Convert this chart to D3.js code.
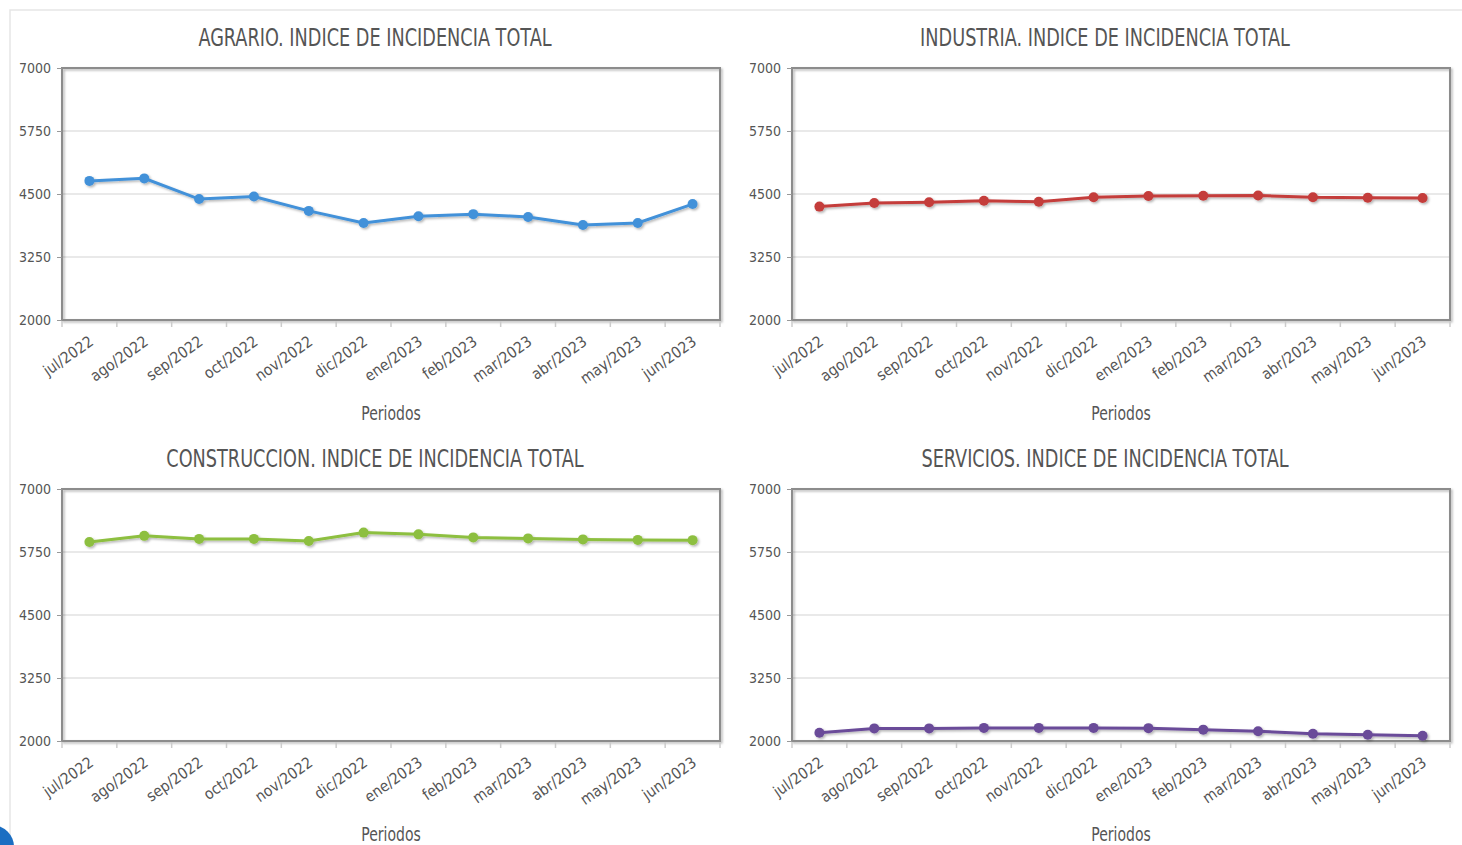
<!DOCTYPE html>
<meta charset="utf-8">
<html>
<head>
<style>
  body { margin: 0; background: #fff; overflow: hidden; }
  svg text { font-family: "DejaVu Sans Condensed", "DejaVu Sans", sans-serif; font-stretch: condensed; fill: #555; }
</style>
</head>
<body>
<div id="chart"></div>
<script src="https://d3js.org/d3.v7.min.js"></script>
<script>

  // Data
  var periodos = ["jul/2022", "ago/2022", "sep/2022", "oct/2022", "nov/2022", "dic/2022",
                  "ene/2023", "feb/2023", "mar/2023", "abr/2023", "may/2023", "jun/2023"];
  var yTicks = [2000, 3250, 4500, 5750, 7000];

  var agrario      = [4760, 4810, 4400, 4450, 4165, 3925, 4060, 4100, 4045, 3885, 3925, 4300];
  var industria    = [4250, 4320, 4335, 4365, 4345, 4435, 4460, 4465, 4470, 4435, 4425, 4420];
  var construccion = [5950, 6070, 6010, 6010, 5970, 6135, 6100, 6040, 6020, 6000, 5990, 5985];
  var servicios    = [2165, 2250, 2250, 2260, 2260, 2260, 2255, 2225, 2195, 2145, 2125, 2105];

  var panels = [
    { title: "AGRARIO. INDICE DE INCIDENCIA TOTAL",      values: agrario,      color: "#4291d9", left: 62,  top: 68 },
    { title: "INDUSTRIA. INDICE DE INCIDENCIA TOTAL",    values: industria,    color: "#c43c3b", left: 792, top: 68 },
    { title: "CONSTRUCCION. INDICE DE INCIDENCIA TOTAL", values: construccion, color: "#8dbf3f", left: 62,  top: 489 },
    { title: "SERVICIOS. INDICE DE INCIDENCIA TOTAL",    values: servicios,    color: "#6a4b99", left: 792, top: 489 }
  ];

  var W = 1462, H = 845;
  var pw = 658, ph = 252;

  var svg = d3.select("#chart").append("svg")
    .attr("width", W)
    .attr("height", H);

  var defs = svg.append("defs");
  defs.append("filter").attr("id", "shadow")
      .attr("x", "-5%").attr("y", "-5%").attr("width", "110%").attr("height", "120%")
    .append("feDropShadow")
      .attr("dx", 1.5).attr("dy", 1.5).attr("stdDeviation", 1.2)
      .attr("flood-color", "#000").attr("flood-opacity", 0.3);

  // outer frame
  svg.append("path")
    .attr("d", "M10," + H + "V10H" + W)
    .attr("fill", "none")
    .attr("stroke", "#e6e6e6")
    .attr("stroke-width", 1.5);

  panels.forEach(function(p) {
    var g = svg.append("g")
      .attr("transform", "translate(" + p.left + "," + p.top + ")");

    var x = d3.scaleBand()
      .domain(periodos)
      .range([0, pw]);

    var y = d3.scaleLinear()
      .domain([2000, 7000])
      .range([ph, 0]);

    // title (narrowed to look like the condensed original)
    g.append("text")
      .attr("transform", "translate(" + (pw / 2 - 16) + ",-22) scale(0.82,1)")
      .attr("text-anchor", "middle")
      .style("font-size", "24px")
      .text(p.title);

    // gridlines
    g.selectAll(".grid")
      .data(yTicks)
      .enter().append("line")
        .attr("x1", 0).attr("x2", pw)
        .attr("y1", function(d) { return y(d); })
        .attr("y2", function(d) { return y(d); })
        .attr("stroke", "#e2e2e2")
        .attr("stroke-width", 1.5);

    // frame
    g.append("rect")
      .attr("width", pw)
      .attr("height", ph)
      .attr("fill", "none")
      .attr("stroke", "#8c8c8c")
      .attr("stroke-width", 2)
      .attr("filter", "url(#shadow)");

    // Y axis
    var yAxis = g.append("g")
      .call(d3.axisLeft(y).tickValues(yTicks).tickFormat(d3.format("d")).tickSize(5).tickPadding(6));
    yAxis.select(".domain").remove();
    yAxis.selectAll(".tick line").attr("stroke", "#999");
    yAxis.selectAll(".tick text")
      .style("font-size", "14px")
      .attr("fill", "#555");

    // X axis ticks at category boundaries
    g.selectAll(".xtick")
      .data(d3.range(periodos.length + 1))
      .enter().append("line")
        .attr("x1", function(i) { return i * x.step(); })
        .attr("x2", function(i) { return i * x.step(); })
        .attr("y1", ph + 1)
        .attr("y2", ph + 7)
        .attr("stroke", "#ccc")
        .attr("stroke-width", 1.5);

    g.selectAll(".xlabel")
      .data(periodos)
      .enter().append("text")
        .attr("text-anchor", "end")
        .attr("transform", function(d) {
          return "translate(" + (x(d) + x.bandwidth() / 2 + 5) + "," + (ph + 24) + ") rotate(-35)";
        })
        .style("font-size", "15.5px")
        .text(function(d) { return d; });

    // axis title
    g.append("text")
      .attr("transform", "translate(" + (pw / 2) + "," + (ph + 100) + ") scale(0.82,1)")
      .attr("text-anchor", "middle")
      .style("font-size", "19px")
      .text("Periodos");

    // line + points
    var line = d3.line()
      .x(function(d, i) { return x(periodos[i]) + x.bandwidth() / 2; })
      .y(function(d) { return y(d); });

    var series = g.append("g").attr("filter", "url(#shadow)");

    series.append("path")
      .datum(p.values)
      .attr("fill", "none")
      .attr("stroke", p.color)
      .attr("stroke-width", 3)
      .attr("d", line);

    series.selectAll("circle")
      .data(p.values)
      .enter().append("circle")
        .attr("cx", function(d, i) { return x(periodos[i]) + x.bandwidth() / 2; })
        .attr("cy", function(d) { return y(d); })
        .attr("r", 5)
        .attr("fill", p.color);
  });

  // floating button, cut off at the corner
  svg.append("circle")
    .attr("cx", -8)
    .attr("cy", 847)
    .attr("r", 22)
    .attr("fill", "#1b6ec2");

</script>
</body>
</html>
